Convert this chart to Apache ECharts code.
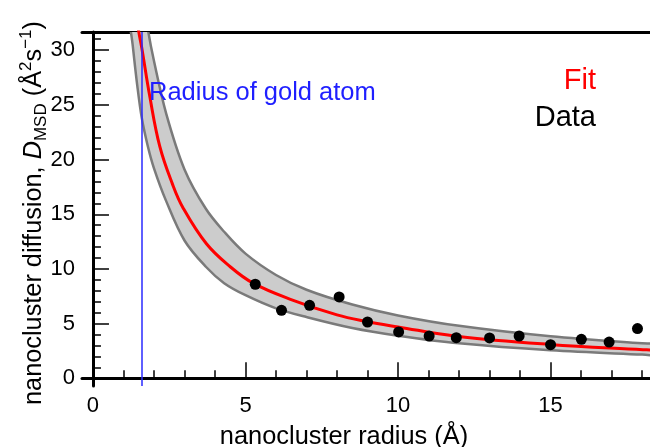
<!DOCTYPE html>
<html>
<head>
<meta charset="utf-8">
<script src="https://cdn.jsdelivr.net/npm/echarts@6/dist/echarts.min.js"></script>
<style>
  html, body { margin: 0; padding: 0; background: #fff; }
  #chart { width: 650px; height: 447px; }
</style>
</head>
<body>
<div id="chart"></div>
<script>
// Measured nanocluster diffusion (radius in Å, D_MSD in Å^2 s^-1)
const dataRadius = [5.32, 6.18, 7.10, 8.07, 9.00, 10.02, 11.02, 11.91, 13.00, 13.97, 15.00, 16.01, 16.92, 17.85];
const dataDiff   = [8.60, 6.22, 6.68, 7.44, 5.15, 4.24, 3.87, 3.72, 3.69, 3.87, 3.08, 3.57, 3.32, 4.55];

// Fit curve
const fitRadius = [1.40, 1.50, 1.60, 1.86, 2.19, 2.60, 2.95, 3.72, 4.50, 5.25, 6.45, 8.00, 8.96, 10.0, 11.91, 14.97, 18.03, 18.40];
const fitDiff   = [33.6, 31.7, 30.2, 25.8, 21.2, 17.8, 15.6, 12.3, 10.2, 8.70, 7.25, 5.80, 5.20, 4.70, 3.85, 3.10, 2.62, 2.57];

// Grey uncertainty band, both edges read at the same radii
const bandRadius = [1.20, 1.30, 1.45, 1.60, 1.80, 2.00, 2.40, 3.00, 3.70, 4.30, 5.00, 6.00, 7.00, 8.50, 10.0, 12.0, 15.0, 18.0, 19.0];
const bandLower  = [33.0, 30.5, 26.8, 23.8, 21.2, 19.2, 16.2, 12.6, 10.2, 8.70, 7.60, 6.40, 5.60, 4.60, 3.90, 3.20, 2.56, 2.17, 2.06];
const bandUpper  = [48.0, 44.0, 39.5, 35.8, 31.9, 29.0, 24.2, 19.1, 15.5, 13.4, 11.4, 9.45, 8.10, 6.75, 5.75, 4.80, 3.84, 3.20, 3.04];

const goldRadius = 1.6;

const xMajorTicks = [0, 5, 10, 15];
const xMinorTicks = [1, 2, 3, 4, 6, 7, 8, 9, 11, 12, 13, 14, 16, 17, 18];
const yMajorTicks = [0, 5, 10, 15, 20, 25, 30];
const yMinorTicks = [1, 2, 3, 4, 6, 7, 8, 9, 11, 12, 13, 14, 16, 17, 18, 19, 21, 22, 23, 24, 26, 27, 28, 29, 31];

const X_MIN = -0.36, X_MAX = 18.26;
const Y_MIN = -0.70, Y_MAX = 31.66;

const FONT = '"Liberation Sans", Arial, Helvetica, sans-serif';
const zip = (xs, ys) => xs.map((x, i) => [x, ys[i]]);

const chart = echarts.init(document.getElementById('chart'), null, { renderer: 'canvas' });

const tickLine = { color: '#000', width: 1.5 };
const hidden = { show: false };
const tickFont = { fontSize: 22, color: '#000', fontFamily: FONT };

// band outline: upper edge left->right, then lower edge back right->left
function renderBand(params, api) {
  const upper = bandRadius.map((r, i) => api.coord([r, bandUpper[i]]));
  const lower = bandRadius.map((r, i) => api.coord([r, bandLower[i]])).reverse();
  const cs = params.coordSys;
  return {
    type: 'polygon',
    shape: { points: upper.concat(lower), smooth: 0.35 },
    style: { fill: '#cccccc', stroke: '#7a7a7a', lineWidth: 2.5 },
    clipPath: { type: 'rect', shape: { x: cs.x, y: cs.y, width: cs.width, height: cs.height } },
    silent: true
  };
}

chart.setOption({
  animation: false,
  backgroundColor: '#fff',
  textStyle: { fontFamily: FONT },
  grid: { left: 82, right: 0, top: 32, bottom: 61, outerBoundsMode: 'none', containLabel: false },
  xAxis: [
    {
      type: 'value', min: X_MIN, max: X_MAX, position: 'bottom',
      axisLine: { lineStyle: { color: '#000', width: 3 } },
      axisTick: { inside: true, length: 16, customValues: xMajorTicks, lineStyle: tickLine },
      axisLabel: {
        customValues: xMajorTicks, margin: 9, ...tickFont,
        formatter: '{n|{value}}', rich: { n: tickFont }
      },
      splitLine: hidden,
      name: 'nanocluster radius (Å)', nameLocation: 'middle', nameGap: 38, nameMoveOverlap: false,
      nameTextStyle: { color: '#000', fontSize: 25.4, fontFamily: FONT, padding: [0, 44, 0, 0] }
    },
    {
      type: 'value', min: X_MIN, max: X_MAX, position: 'bottom',
      axisLine: hidden,
      axisTick: { inside: true, length: 8, customValues: xMinorTicks, lineStyle: tickLine },
      axisLabel: hidden, splitLine: hidden
    },
    {
      type: 'value', min: X_MIN, max: X_MAX, position: 'top',
      axisLine: { lineStyle: { color: '#000', width: 3 } },
      axisTick: hidden, axisLabel: hidden, splitLine: hidden
    }
  ],
  yAxis: [
    {
      type: 'value', min: Y_MIN, max: Y_MAX, position: 'left',
      axisLine: { show: true, lineStyle: { color: '#000', width: 3 } },
      axisTick: { show: true, inside: true, length: 16, customValues: yMajorTicks, lineStyle: tickLine },
      axisLabel: {
        customValues: yMajorTicks, margin: 7, ...tickFont,
        formatter: '{n|{value}}', rich: { n: tickFont }
      },
      splitLine: hidden,
      name: '{t|nanocluster diffusion, }{i|D}{sub|MSD}{t| (Å}{sup|2}{t|s}{sup|−1}{t|)}',
      nameLocation: 'middle', nameGap: 32, nameMoveOverlap: false,
      nameTextStyle: {
        color: '#000', fontFamily: FONT, padding: [0, 8, 0, 0],
        rich: {
          t: { fontSize: 25.3, lineHeight: 32, color: '#000', fontFamily: FONT },
          i: { fontSize: 25.3, lineHeight: 32, color: '#000', fontStyle: 'italic', fontFamily: FONT },
          sub: { fontSize: 17, lineHeight: 17, color: '#000', verticalAlign: 'bottom', fontFamily: FONT },
          sup: { fontSize: 17, lineHeight: 17, color: '#000', verticalAlign: 'top', fontFamily: FONT }
        }
      }
    },
    {
      type: 'value', min: Y_MIN, max: Y_MAX, position: 'left',
      axisLine: hidden,
      axisTick: { show: true, inside: true, length: 8, customValues: yMinorTicks, lineStyle: tickLine },
      axisLabel: hidden, splitLine: hidden
    }
  ],
  graphic: [
    {
      type: 'text', left: 149, top: 80, z: 100,
      style: { text: 'Radius of gold atom', fill: '#1f1fff', font: '25.5px ' + FONT }
    },
    {
      type: 'text', right: 54, top: 66, z: 100,
      style: { text: 'Fit', fill: '#ff0000', font: '29px ' + FONT }
    },
    {
      type: 'text', right: 54, top: 103, z: 100,
      style: { text: 'Data', fill: '#000', font: '29px ' + FONT }
    }
  ],
  series: [
    {
      name: 'band', type: 'custom', renderItem: renderBand,
      data: [[bandRadius[0], bandLower[0]]], z: 1, silent: true
    },
    {
      name: 'Radius of gold atom', type: 'line', data: [], z: 3,
      markLine: {
        silent: true, symbol: 'none', animation: false,
        label: { show: false },
        lineStyle: { color: '#2a2aff', width: 1.5, type: 'solid' },
        data: [{ xAxis: goldRadius }]
      }
    },
    {
      name: 'Fit', type: 'line', smooth: 0.4, symbol: 'none',
      data: zip(fitRadius, fitDiff),
      lineStyle: { color: '#ff0000', width: 3 }, z: 4
    },
    {
      name: 'Data', type: 'scatter', symbol: 'circle', symbolSize: 11,
      data: zip(dataRadius, dataDiff),
      itemStyle: { color: '#000', opacity: 1 }, z: 5
    }
  ]
});
</script>
</body>
</html>
